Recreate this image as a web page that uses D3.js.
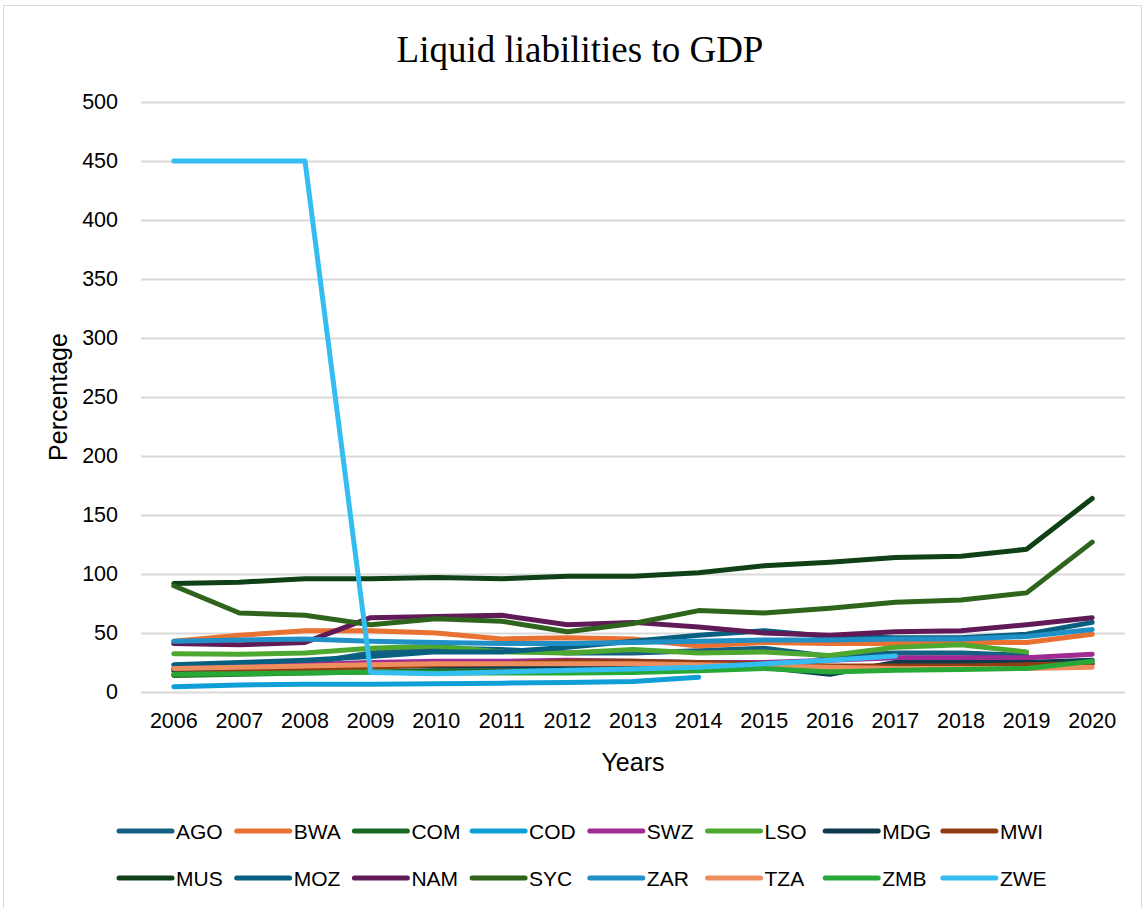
<!DOCTYPE html>
<html>
<head>
<meta charset="utf-8">
<script src="https://cdn.jsdelivr.net/npm/d3@7"></script>
<style>
  html, body { margin: 0; padding: 0; background: #fff; }
  svg { display: block; }
</style>
</head>
<body>
<svg id="chart" width="1146" height="908"></svg>
<script>
// Liquid liabilities to GDP (%), 2006–2020
const years = [2006, 2007, 2008, 2009, 2010, 2011, 2012, 2013, 2014, 2015, 2016, 2017, 2018, 2019, 2020];
const yTicks = [0, 50, 100, 150, 200, 250, 300, 350, 400, 450, 500];
const countries = ["AGO", "BWA", "COM", "COD", "SWZ", "LSO", "MDG", "MWI", "MUS", "MOZ", "NAM", "SYC", "ZAR", "TZA", "ZMB", "ZWE"];

const AGO = [20, 22, 24, 33, 37, 36, 33, 33, 35, 37, 30, 33, 33, 31, null];
const BWA = [43, 48, 52, 52, 50, 45, 46, 45, 39, 42, 41, 41, 42, 42, 49];
const COM = [14, 15, 16, 17, 18, 18, 18, 19, 20, 22, 18, 19, 20, 21, 24];
const COD = [4.5, 6, 6.5, 6.5, 7, 7.5, 8, 9, 12.5, null, null, null, null, null, null];
const SWZ = [19, 21, 23, 25, 26, 26, 27, 26, 25, 25, 27, 29, 29, 29, 32];
const LSO = [32.5, 32, 33, 37, 39, 34, 33, 36, 33, 34, 31, 38, 40, 34, null];
const MDG = [18, 19, 20, 22, 22, 22, 22, 22, 22, 21, 15, 25, 25, 25, 27];
const MWI = [15, 17, 19, 21, 23, 24, 26, 26, 25, 24, 22, 22, 22, 23, 24];
const MUS = [92, 93, 96, 96, 97, 96, 98, 98, 101, 107, 110, 114, 115, 121, 164];
const MOZ = [23, 25, 27, 30, 34, 34, 38, 43, 48, 52, 47, 46, 46, 49, 59];
const NAM = [41, 40, 42, 63, 64, 65, 57, 59, 55, 50, 48, 51, 52, 57, 63];
const SYC = [90, 67, 65, 57, 62, 60, 51, 58, 69, 67, 71, 76, 78, 84, 127];
const ZAR = [43, 44, 45, 43, 42, 41, 41, 42, 43, 44, 44, 45, 45, 47, 53];
const TZA = [20, 21, 22, 23, 24, 24, 24, 24, 23, 22, 21, 20, 20, 20, 21];
const ZMB = [15, 15.5, 16, 17, 16, 16, 16, 16.5, 18, 20, 17, 18.5, 19, 20, 26];
const ZWE = [450, 450, 450, 16.5, 15.5, 17, 18.5, 19.5, 21, 24, 27, 30.5, null, null, null];

const seriesValues = [AGO, BWA, COM, COD, SWZ, LSO, MDG, MWI, MUS, MOZ, NAM, SYC, ZAR, TZA, ZMB, ZWE];
const colors = ["#156082", "#E97132", "#196B24", "#0F9ED5", "#A02B93", "#4EA72E",
                "#0D3A4E", "#8F3E14", "#0F4016", "#095F80", "#601A58", "#2F641C",
                "#2190C6", "#EE8D5E", "#27A837", "#33BDF0"];

const svg = d3.select("#chart");
const sansFont = "'Liberation Sans', Arial, sans-serif";

// chart frame
svg.append("rect")
  .attr("x", 3.5).attr("y", 5.5)
  .attr("width", 1138).attr("height", 920)
  .attr("fill", "#fff").attr("stroke", "#D9D9D9").attr("stroke-width", 1);

const plot = { left: 141, right: 1125, top: 102, bottom: 692 };

const x = d3.scaleBand().domain(years).range([plot.left, plot.right]).paddingInner(0).paddingOuter(0);
const y = d3.scaleLinear().domain([0, 500]).range([plot.bottom, plot.top]);
const cx = yr => x(yr) + x.bandwidth() / 2;

// title
svg.append("text")
  .attr("x", 580).attr("y", 62)
  .attr("text-anchor", "middle")
  .style("font-family", "'Liberation Serif', 'Times New Roman', serif")
  .style("font-size", "37px")
  .attr("fill", "#000")
  .text("Liquid liabilities to GDP");

// horizontal gridlines with value labels
const yAxis = d3.axisLeft(y).tickValues(yTicks).tickSize(-(plot.right - plot.left)).tickPadding(23);
const gy = svg.append("g").attr("transform", `translate(${plot.left},0)`).call(yAxis);
gy.select(".domain").remove();
gy.selectAll(".tick line").attr("stroke", "#D9D9D9").attr("stroke-width", 2);
gy.selectAll(".tick text")
  .style("font-family", sansFont).style("font-size", "21.5px").attr("fill", "#000");

// category axis labels
const xAxis = d3.axisBottom(x).tickSize(0).tickPadding(21);
const gx = svg.append("g").attr("transform", `translate(0,${plot.bottom})`).call(xAxis);
gx.select(".domain").remove();
gx.selectAll(".tick text")
  .style("font-family", sansFont).style("font-size", "21.5px").attr("fill", "#000");

// axis titles
svg.append("text")
  .attr("transform", "translate(67,397) rotate(-90)")
  .attr("text-anchor", "middle")
  .style("font-family", sansFont).style("font-size", "25px")
  .attr("fill", "#000")
  .text("Percentage");

svg.append("text")
  .attr("x", (plot.left + plot.right) / 2).attr("y", 771)
  .attr("text-anchor", "middle")
  .style("font-family", sansFont).style("font-size", "25px")
  .attr("fill", "#000")
  .text("Years");

// series lines
const line = d3.line()
  .defined(d => d.v != null)
  .x(d => cx(d.year))
  .y(d => y(d.v));

countries.forEach((c, i) => {
  const pts = years.map((yr, j) => ({ year: yr, v: seriesValues[i][j] }));
  svg.append("path")
    .datum(pts)
    .attr("d", line)
    .attr("fill", "none")
    .attr("stroke", colors[i])
    .attr("stroke-width", 5)
    .attr("stroke-linejoin", "round")
    .attr("stroke-linecap", "round");
});

// legend: two rows of eight
const legend = svg.append("g");
countries.forEach((c, i) => {
  const col = i % 8, row = Math.floor(i / 8);
  const lx = 119 + col * 117.7;
  const ly = 831 + row * 47;
  const g = legend.append("g").attr("transform", `translate(${lx},${ly})`);
  g.append("line")
    .attr("x1", 0).attr("x2", 53).attr("y1", 0).attr("y2", 0)
    .attr("stroke", colors[i]).attr("stroke-width", 5).attr("stroke-linecap", "round");
  g.append("text")
    .attr("x", 57).attr("y", 7.5)
    .style("font-family", sansFont).style("font-size", "21px")
    .attr("fill", "#000")
    .text(c);
});
</script>
</body>
</html>
